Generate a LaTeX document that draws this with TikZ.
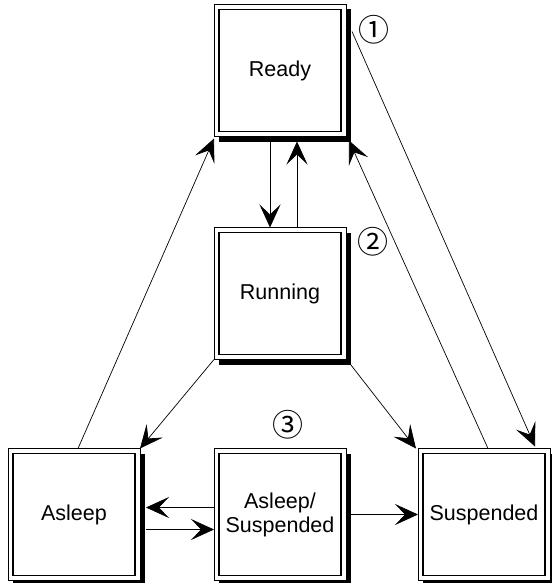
\documentclass[tikz,border=0pt]{standalone}
\usepackage{fontspec}
\setmainfont{Liberation Sans}
\newfontfamily\circfont{Noto Sans CJK SC}
\usepackage{tikz}
\usetikzlibrary{arrows.meta}
\usetikzlibrary{positioning}
\usetikzlibrary{shadows}
\tikzstyle{state} = [draw, fill=white, line width=0.8pt, minimum size=132pt,
inner sep=0pt, outer sep=0pt, align=center,
font=\fontsize{21.5}{24}\selectfont,
drop shadow={shadow xshift=5pt, shadow yshift=-5pt, fill=black, opacity=1},
path picture={\draw[line width=1.6pt]
([shift={(5pt,5pt)}]path picture bounding box.south west) rectangle
([shift={(-5pt,-5pt)}]path picture bounding box.north east);}]
\tikzstyle{line} = [draw, -{Stealth[length=23pt, width=21pt, inset=10pt]}, line width=0.7pt]

\begin{document}
\begin{tikzpicture}[x=1pt, y=-1pt,
	numlabel/.style={font=\circfont\fontsize{31}{31}\selectfont, inner sep=0pt}]
	\useasboundingbox (0,0) rectangle (551,583);
	\node [state] (ready) at (280,70.5) {Ready};
	\node [state, below=91pt of ready] (running) {Running};
	\node [state, below=89pt of running] (as) {Asleep/\\Suspended};
	\node [state, left=74pt of as] (asleep) {Asleep};
	\node [state, right=72pt of as] (susp) {Suspended};
	\node [numlabel] (m1) at (374,30) {①};
	\node [numlabel] (m2) at (373,242) {②};
	\node [numlabel] (m3) at (288,425) {③};
	%% Flows
	\path [line] ([xshift=-10pt,yshift=-5pt]ready.south) -- ([xshift=-10pt]running.north);
	\path [line] ([xshift=17pt]running.north) -- ([xshift=17pt,yshift=-5pt]ready.south);
	\path [line] ([xshift=4pt]asleep.north) -- ([yshift=-2pt]ready.south west);
	\path [line] (running.south west) -- (asleep.north east);
	\path [line] ([shift={(3pt,-3pt)}]running.south east) -- ([xshift=-2pt]susp.north west);
	\path [line] ([xshift=4pt]susp.north) -- ([shift={(3pt,-4pt)}]ready.south east);
	\path [line] ([shift={(6pt,-27pt)}]ready.north east) -- ([xshift=-15pt,yshift=2pt]susp.north east);
	\path [line] ([yshift=7pt]as.west) -- ([xshift=6pt,yshift=7pt]asleep.east);
	\path [line] ([xshift=6pt,yshift=-15pt]asleep.east) -- ([yshift=-15pt]as.west);
	\path [line] ([xshift=5pt]as.east) -- (susp.west);
\end{tikzpicture}
\end{document}
